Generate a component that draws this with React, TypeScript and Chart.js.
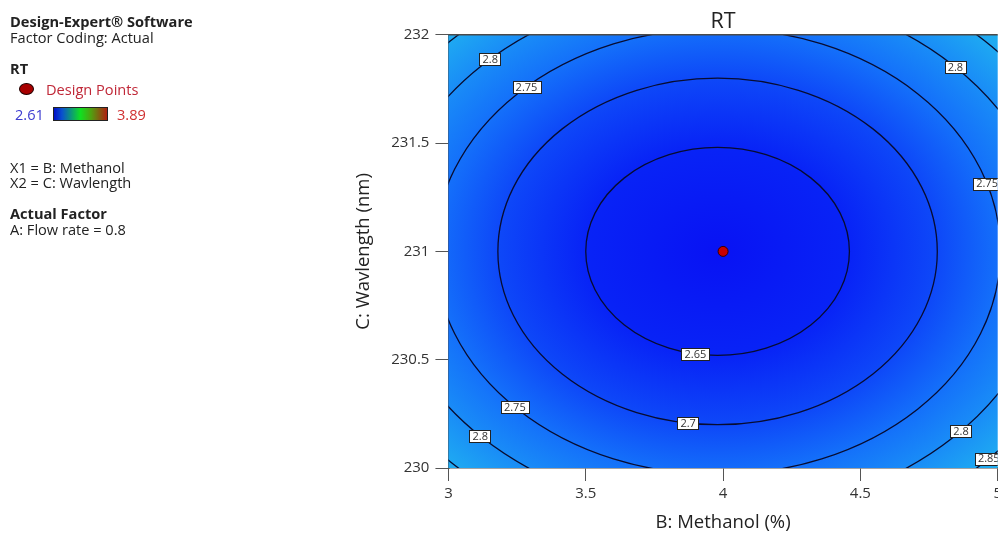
import React, { useEffect, useRef } from "react";
import { Chart, registerables } from "chart.js";

Chart.register(...registerables);

// ---- data ----
const xTicks = [3, 3.5, 4, 4.5, 5];
const yTicks = [230, 230.5, 231, 231.5, 232];
const designPoints = [{ x: 4, y: 231 }];
const surfaceCenter = { x: 3.98, y: 231 };
const contourLevels = [2.65, 2.7, 2.75, 2.8, 2.85];
const contourRadii = [0.48, 0.8, 1.03, 1.214, 1.375];
const labelLevels = [2.8, 2.75, 2.8, 2.75, 2.65, 2.7, 2.75, 2.8, 2.8, 2.85];
const labelAngles = [133, 132.5, 44.5, 17.7, -99.7, -97.7, -135.8, -135.4, -43.1, -44.1];
const shadeRadii = [0, 0.48, 0.8, 1.03, 1.214, 1.375, 1.45];
const shadeColors = [
  "rgb(8,18,244)",
  "rgb(8,35,246)",
  "rgb(14,72,248)",
  "rgb(20,112,250)",
  "rgb(25,140,247)",
  "rgb(30,168,242)",
  "rgb(32,178,240)",
];
const rangeMin = "2.61";
const rangeMax = "3.89";

const FONT = "'Open Sans', 'Noto Sans', sans-serif";

const contourPlugin = {
  id: "contourPlugin",
  beforeDatasetsDraw(chart: any) {
    const { ctx, chartArea, scales } = chart;
    const xs = scales.x;
    const ys = scales.y;
    const cxp = xs.getPixelForValue(surfaceCenter.x);
    const cyp = ys.getPixelForValue(surfaceCenter.y);
    const pxX = xs.getPixelForValue(surfaceCenter.x + 1) - cxp;
    const pxY = cyp - ys.getPixelForValue(surfaceCenter.y + 1);

    ctx.save();
    ctx.beginPath();
    ctx.rect(chartArea.left, chartArea.top, chartArea.right - chartArea.left, chartArea.bottom - chartArea.top);
    ctx.clip();

    // shading
    ctx.save();
    ctx.translate(cxp, cyp);
    ctx.scale(1, pxY / pxX);
    const rMax = shadeRadii[shadeRadii.length - 1];
    const g = ctx.createRadialGradient(0, 0, 0, 0, 0, rMax * pxX);
    shadeRadii.forEach((r, i) => g.addColorStop(r / rMax, shadeColors[i]));
    ctx.fillStyle = g;
    ctx.fillRect(-3000, -3000, 6000, 6000);
    ctx.restore();

    // contour lines
    ctx.strokeStyle = "#080c30";
    ctx.lineWidth = 1.3;
    contourRadii.forEach((r) => {
      ctx.beginPath();
      ctx.ellipse(cxp, cyp, r * pxX, r * pxY, 0, 0, Math.PI * 2);
      ctx.stroke();
    });

    // labels
    ctx.font = `11px ${FONT}`;
    ctx.textAlign = "center";
    ctx.textBaseline = "middle";
    labelLevels.forEach((lv, i) => {
      const r = contourRadii[contourLevels.indexOf(lv)];
      const a = (labelAngles[i] * Math.PI) / 180;
      const px = xs.getPixelForValue(surfaceCenter.x + r * Math.cos(a));
      const py = ys.getPixelForValue(surfaceCenter.y + r * Math.sin(a));
      const txt = String(lv);
      const w = ctx.measureText(txt).width + 6;
      const h = 12;
      ctx.fillStyle = "#ffffff";
      ctx.fillRect(Math.round(px - w / 2) + 0.5, Math.round(py - h / 2) + 0.5, Math.round(w), h);
      ctx.strokeStyle = "#222";
      ctx.lineWidth = 1;
      ctx.strokeRect(Math.round(px - w / 2) + 0.5, Math.round(py - h / 2) + 0.5, Math.round(w), h);
      ctx.fillStyle = "#333";
      ctx.fillText(txt, px, py + 0.5);
    });
    ctx.restore();
  },
  afterDraw(chart: any) {
    const { ctx, chartArea } = chart;
    ctx.save();
    ctx.strokeStyle = "#4a4a4a";
    ctx.lineWidth = 1.5;
    ctx.beginPath();
    ctx.moveTo(chartArea.left, chartArea.top);
    ctx.lineTo(chartArea.right, chartArea.top);
    ctx.stroke();
    ctx.restore();
  },
};

const legendText: React.CSSProperties = {
  position: "absolute",
  fontFamily: FONT,
  fontSize: 14.6,
  lineHeight: "16px",
  color: "#222",
  whiteSpace: "nowrap",
};

export default function App() {
  const ref = useRef<HTMLCanvasElement>(null);

  useEffect(() => {
    if (!ref.current) return;
    const chart = new Chart(ref.current, {
      type: "scatter",
      data: {
        datasets: [
          {
            label: "Design Points",
            data: designPoints,
            pointRadius: 5,
            pointHoverRadius: 5,
            backgroundColor: "#c80000",
            borderColor: "#3a0000",
            borderWidth: 1,
          },
        ],
      },
      options: {
        animation: false,
        responsive: false,
        maintainAspectRatio: false,
        layout: { padding: { left: 349, right: 0, top: 0, bottom: 0 } },
        plugins: {
          legend: { display: false },
          tooltip: { enabled: false },
          title: {
            display: true,
            text: "RT",
            fullSize: false,
            color: "#222",
            font: { family: FONT, size: 21.5, weight: "normal" },
            padding: { top: 9, bottom: 0 },
          },
        },
        scales: {
          x: {
            type: "linear",
            min: 3,
            max: 5,
            afterBuildTicks: (s: any) => {
              s.ticks = xTicks.map((v) => ({ value: v }));
            },
            ticks: {
              callback: (v: any) => String(v),
              color: "#333",
              font: { family: FONT, size: 15 },
              padding: 4,
              maxRotation: 0,
            },
            grid: {
              display: true,
              drawOnChartArea: false,
              drawTicks: true,
              tickLength: 13,
              color: "#555",
            },
            border: { display: true, color: "#4a4a4a", width: 1.5 },
            title: {
              display: true,
              text: "B: Methanol (%)",
              color: "#222",
              font: { family: FONT, size: 18.5 },
              padding: { top: 4.8, bottom: 0 },
            },
          },
          y: {
            type: "linear",
            min: 230,
            max: 232,
            afterBuildTicks: (s: any) => {
              s.ticks = yTicks.map((v) => ({ value: v }));
            },
            ticks: {
              callback: (v: any) => String(v),
              color: "#333",
              font: { family: FONT, size: 15 },
              padding: 6,
            },
            grid: {
              display: true,
              drawOnChartArea: false,
              drawTicks: true,
              tickLength: 13,
              color: "#555",
            },
            border: { display: true, color: "#4a4a4a", width: 1.5 },
            title: {
              display: true,
              text: "C: Wavlength (nm)",
              color: "#222",
              font: { family: FONT, size: 18.5 },
              padding: { top: 4, bottom: 10 },
            },
          },
        },
      },
      plugins: [contourPlugin],
    } as any);
    return () => chart.destroy();
  }, []);

  return (
    <div
      style={{
        position: "absolute",
        left: 0,
        top: 0,
        width: 998,
        height: 534,
        overflow: "hidden",
        background: "#fff",
      }}
    >
      <canvas ref={ref} width={1006} height={534} style={{ display: "block", position: "absolute", left: 0, top: 0 }} />
      <div style={{ ...legendText, left: 10, top: 13, fontWeight: 700 }}>Design-Expert® Software</div>
      <div style={{ ...legendText, left: 10, top: 29 }}>Factor Coding: Actual</div>
      <div style={{ ...legendText, left: 10, top: 60, fontWeight: 700 }}>RT</div>
      <div
        style={{
          position: "absolute",
          left: 19,
          top: 83,
          width: 13,
          height: 10,
          borderRadius: "50%",
          background: "#a80000",
          border: "1px solid #200000",
        }}
      />
      <div style={{ ...legendText, left: 46, top: 81, color: "#c02838" }}>Design Points</div>
      <div style={{ ...legendText, left: 15, top: 106, color: "#3c3cd0" }}>{rangeMin}</div>
      <div
        style={{
          position: "absolute",
          left: 53,
          top: 107,
          width: 53,
          height: 12,
          border: "1px solid #222",
          background: "linear-gradient(to right, #0010c8, #0a50d0 15%, #10e020 50%, #50a010 70%, #b02010)",
        }}
      />
      <div style={{ ...legendText, left: 117, top: 106, color: "#d03030" }}>{rangeMax}</div>
      <div style={{ ...legendText, left: 10, top: 159 }}>X1 = B: Methanol</div>
      <div style={{ ...legendText, left: 10, top: 174 }}>X2 = C: Wavlength</div>
      <div style={{ ...legendText, left: 10, top: 205, fontWeight: 700 }}>Actual Factor</div>
      <div style={{ ...legendText, left: 10, top: 221 }}>A: Flow rate = 0.8</div>
    </div>
  );
}
